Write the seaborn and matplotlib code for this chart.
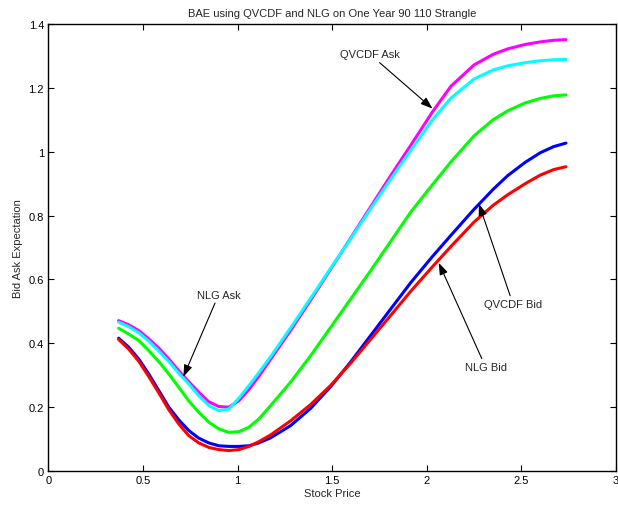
import pandas as pd
import seaborn as sns
import matplotlib
matplotlib.use("Agg")
import matplotlib.pyplot as plt

# stock price grid
price = [0.372, 0.425, 0.478, 0.531, 0.584, 0.637, 0.69, 0.742, 0.795, 0.848, 0.901,
         0.954, 1.007, 1.06, 1.113, 1.175, 1.28, 1.386, 1.492, 1.598, 1.704, 1.81,
         1.915, 2.03, 2.127, 2.25, 2.35, 2.427, 2.52, 2.6, 2.67, 2.735]

qvcdf_ask = [0.471, 0.458, 0.44, 0.414, 0.385, 0.351, 0.314, 0.28, 0.247, 0.217, 0.202,
             0.20, 0.22, 0.255, 0.297, 0.35, 0.44, 0.535, 0.632, 0.73, 0.828, 0.926,
             1.02, 1.125, 1.205, 1.272, 1.305, 1.322, 1.336, 1.344, 1.349, 1.351]
nlg_ask = [0.466, 0.452, 0.433, 0.407, 0.376, 0.343, 0.306, 0.273, 0.236, 0.205, 0.189,
           0.194, 0.228, 0.267, 0.308, 0.358, 0.448, 0.541, 0.635, 0.728, 0.822, 0.915,
           1.004, 1.10, 1.168, 1.228, 1.256, 1.269, 1.279, 1.285, 1.288, 1.289]
mid = [0.447, 0.429, 0.409, 0.377, 0.343, 0.304, 0.262, 0.22, 0.184, 0.153, 0.132,
       0.121, 0.123, 0.137, 0.163, 0.205, 0.278, 0.361, 0.45, 0.539, 0.628, 0.72,
       0.811, 0.897, 0.968, 1.05, 1.10, 1.128, 1.153, 1.167, 1.175, 1.178]
qvcdf_bid = [0.416, 0.388, 0.351, 0.304, 0.252, 0.20, 0.16, 0.127, 0.103, 0.088, 0.079,
             0.077, 0.077, 0.079, 0.088, 0.104, 0.142, 0.196, 0.264, 0.342, 0.425, 0.508,
             0.59, 0.672, 0.738, 0.82, 0.882, 0.925, 0.967, 0.997, 1.016, 1.027]
nlg_bid = [0.412, 0.382, 0.344, 0.296, 0.245, 0.192, 0.147, 0.111, 0.088, 0.074, 0.067,
           0.064, 0.067, 0.077, 0.092, 0.113, 0.157, 0.208, 0.268, 0.338, 0.413, 0.488,
           0.563, 0.64, 0.703, 0.78, 0.832, 0.865, 0.90, 0.927, 0.944, 0.953]

series = {"QVCDF Ask": qvcdf_ask, "NLG Ask": nlg_ask, "Mid": mid,
          "QVCDF Bid": qvcdf_bid, "NLG Bid": nlg_bid}
colors = ["#ff00ff", "#00ffff", "#00ff00", "#0000ff", "#ff0000"]

df = pd.concat([pd.DataFrame({"price": price, "value": v, "curve": k})
                for k, v in series.items()], ignore_index=True)

sns.set_style("ticks")
plt.rcParams["font.family"] = ["Liberation Sans", "DejaVu Sans"]
plt.rcParams["font.size"] = 8

fig, ax = plt.subplots(figsize=(6.18, 5.10), dpi=100)
fig.subplots_adjust(left=0.078, right=0.997, bottom=0.0745, top=0.951)

sns.lineplot(data=df, x="price", y="value", hue="curve", palette=colors,
             estimator=None, sort=False, linewidth=2.2, legend=False, ax=ax)

ax.set_xlim(0, 3)
ax.set_ylim(0, 1.4)
ax.set_xticks([0, 0.5, 1, 1.5, 2, 2.5, 3])
ax.set_xticklabels(["0", "0.5", "1", "1.5", "2", "2.5", "3"])
ax.set_yticks([0, 0.2, 0.4, 0.6, 0.8, 1, 1.2, 1.4])
ax.set_yticklabels(["0", "0.2", "0.4", "0.6", "0.8", "1", "1.2", "1.4"])
ax.tick_params(direction="in", top=True, right=True, length=4, width=0.8,
               labelsize=8, pad=3, colors="black")
for s in ax.spines.values():
    s.set_visible(True)
    s.set_linewidth(1.0)
    s.set_color("black")

ax.set_title("BAE using QVCDF and NLG on One Year 90 110 Strangle", fontsize=8, pad=6)
ax.set_xlabel("Stock Price", fontsize=8, labelpad=2)
ax.set_ylabel("Bid Ask Expectation", fontsize=8, labelpad=4)

arrow = dict(arrowstyle="-|>,head_length=0.9,head_width=0.32", color="black",
             lw=0.8, shrinkA=0, shrinkB=0)
ax.annotate("QVCDF Ask", xy=(2.03, 1.135), xytext=(1.70, 1.305),
            ha="center", va="center", fontsize=8, arrowprops=arrow)
ax.annotate("NLG Ask", xy=(0.714, 0.295), xytext=(0.90, 0.552),
            ha="center", va="center", fontsize=8, arrowprops=arrow)
ax.annotate("QVCDF Bid", xy=(2.275, 0.837), xytext=(2.455, 0.523),
            ha="center", va="center", fontsize=8, arrowprops=arrow)
ax.annotate("NLG Bid", xy=(2.063, 0.652), xytext=(2.31, 0.326),
            ha="center", va="center", fontsize=8, arrowprops=arrow)

fig.savefig("out.png", dpi=100)
